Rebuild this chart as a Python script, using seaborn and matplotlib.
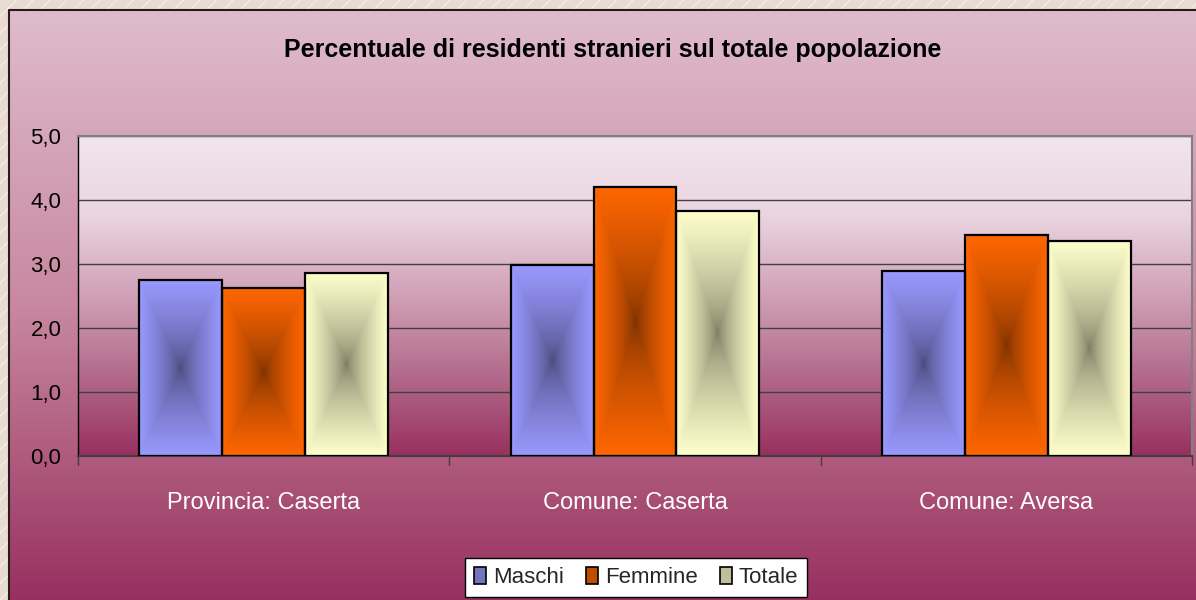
import numpy as np
import pandas as pd
import matplotlib
matplotlib.use("Agg")
import matplotlib.pyplot as plt
import seaborn as sns
from matplotlib import font_manager
from matplotlib.colors import LinearSegmentedColormap, to_rgb
from matplotlib.patches import Patch, Rectangle

# dati
categorie = ["Provincia: Caserta", "Comune: Caserta", "Comune: Aversa"]
serie = ["Maschi", "Femmine", "Totale"]
maschi = [2.75, 2.98, 2.89]
femmine = [2.62, 4.20, 3.45]
totale = [2.86, 3.83, 3.36]
y_ticks = [0, 1, 2, 3, 4, 5]
y_labels = ["0,0", "1,0", "2,0", "3,0", "4,0", "5,0"]
colori = ["#9999ff", "#ff6600", "#ffffcc"]
titolo = "Percentuale di residenti stranieri sul totale popolazione"

df = pd.DataFrame({
    "categoria": categorie * 3,
    "serie": [s for s in serie for _ in categorie],
    "valore": maschi + femmine + totale,
})

sns.set_theme(style="white")
nomi = {f.name for f in font_manager.fontManager.ttflist}
narrow = "Liberation Sans Narrow" in nomi
if narrow:
    plt.rcParams['font.family'] = ['Liberation Sans Narrow', 'DejaVu Sans']
    fs_tick, fs_cat, fs_tit, fs_leg = 19, 20, 22, 19
else:
    plt.rcParams['font.family'] = ['Liberation Sans', 'DejaVu Sans']
    fs_tick, fs_cat, fs_tit, fs_leg = 16, 17, 18, 16

W, H = 1196, 600
fig = plt.figure(figsize=(W / 100, H / 100), dpi=100)

# sfondo esterno (bordo beige tratteggiato) + sfondo sfumato del grafico
bg = fig.add_axes([0, 0, 1, 1])
bg.axis("off")
bg.add_patch(Rectangle((0, 0), W, H, facecolor="#e8dcd2", edgecolor="#f4ece6",
                       hatch="//", linewidth=0))
cm_fig = LinearSegmentedColormap.from_list("f", ["#dfbccd", "#c8889f", "#97305f"])
grad = np.linspace(0, 1, 256).reshape(-1, 1)
bg.imshow(grad, cmap=cm_fig, extent=(9, W + 2, H + 2, 10), aspect="auto", zorder=1)
bg.plot([9, 9, W], [H, 10, 10], color="#2a1a1a", lw=1.5, zorder=2)
bg.set_xlim(0, W)
bg.set_ylim(H, 0)

# area del grafico
x0, x1, yt, yb = 78, 1192, 136, 456
ax = fig.add_axes([x0 / W, 1 - yb / H, (x1 - x0) / W, (yb - yt) / H])
cm_ax = LinearSegmentedColormap.from_list(
    "a", ["#f1e6ee", "#ead4df", "#d0a0b6", "#b26a8c", "#99305f"])
ax.imshow(grad, cmap=cm_ax, extent=(0, 1, 0, 1), transform=ax.transAxes,
          aspect="auto", zorder=0)

sns.barplot(data=df, x="categoria", y="valore", hue="serie", palette=colori,
            width=0.67, ax=ax, legend=False, edgecolor="black", linewidth=1.6,
            saturation=1, zorder=2)

# riempimento sfumato delle barre
ny, nx = 120, 60
u = np.abs(np.linspace(-1, 1, nx))[None, :]
v = np.abs(np.linspace(-1, 1, ny))[:, None]
d = np.maximum(u, v)
fatt = 0.47 + 0.53 * d ** 0.65
for p in ax.patches:
    col = np.array(to_rgb(p.get_facecolor()))
    img = np.clip(fatt[:, :, None] * col[None, None, :], 0, 1)
    bx, bw, bh = p.get_x(), p.get_width(), p.get_height()
    im = ax.imshow(img, extent=(bx, bx + bw, 0, bh), aspect="auto",
                   interpolation="bilinear", zorder=2.5)
    im.set_clip_path(p)
    p.set_facecolor("none")
    p.set_zorder(3)

ax.set_xlim(-0.5, 2.5)
ax.set_ylim(0, 5)
ax.set_facecolor("none")
ax.set_yticks(y_ticks)
ax.set_yticklabels(y_labels, fontsize=fs_tick, color="black")
ax.set_xticks([0, 1, 2])
ax.set_xticklabels(categorie, fontsize=fs_cat, color="white")
ax.tick_params(axis="x", length=0, pad=26)
ax.tick_params(axis="y", length=6, width=1, direction="out", color="black", pad=6)
ax.set_xlabel("")
ax.set_ylabel("")
for yv in y_ticks[1:]:
    ax.axhline(yv, color="#404040", lw=1, zorder=1)
for xv in [-0.5, 0.5, 1.5, 2.5]:
    ax.plot([xv, xv], [0, -0.14], color="#404040", lw=1, clip_on=False)
ax.spines["left"].set_color("black")
ax.spines["left"].set_linewidth(1)
ax.spines["bottom"].set_color("#404040")
ax.spines["bottom"].set_linewidth(1.5)
for lato in ["top", "right"]:
    ax.spines[lato].set_color("#808080")
    ax.spines[lato].set_linewidth(1.5)

fig.text(613 / W, 1 - 50 / H, titolo, ha="center", va="center",
         fontsize=fs_tit, fontweight="bold", color="black")

# legenda
handles = [Patch(facecolor=np.array(to_rgb(c)) * 0.75, edgecolor="black",
                 linewidth=1.2, label=s) for c, s in zip(colori, serie)]
leg = fig.legend(handles=handles, loc="upper center", ncol=3,
                 bbox_to_anchor=(636 / W, 1 - 558 / H), borderaxespad=0,
                 frameon=True, fancybox=False, fontsize=fs_leg,
                 handlelength=0.55, handleheight=0.8, handletextpad=0.3,
                 columnspacing=1.0, borderpad=0.4)
leg.get_frame().set_edgecolor("black")
leg.get_frame().set_facecolor("white")
leg.get_frame().set_alpha(1)

fig.savefig("out.png", dpi=100)
